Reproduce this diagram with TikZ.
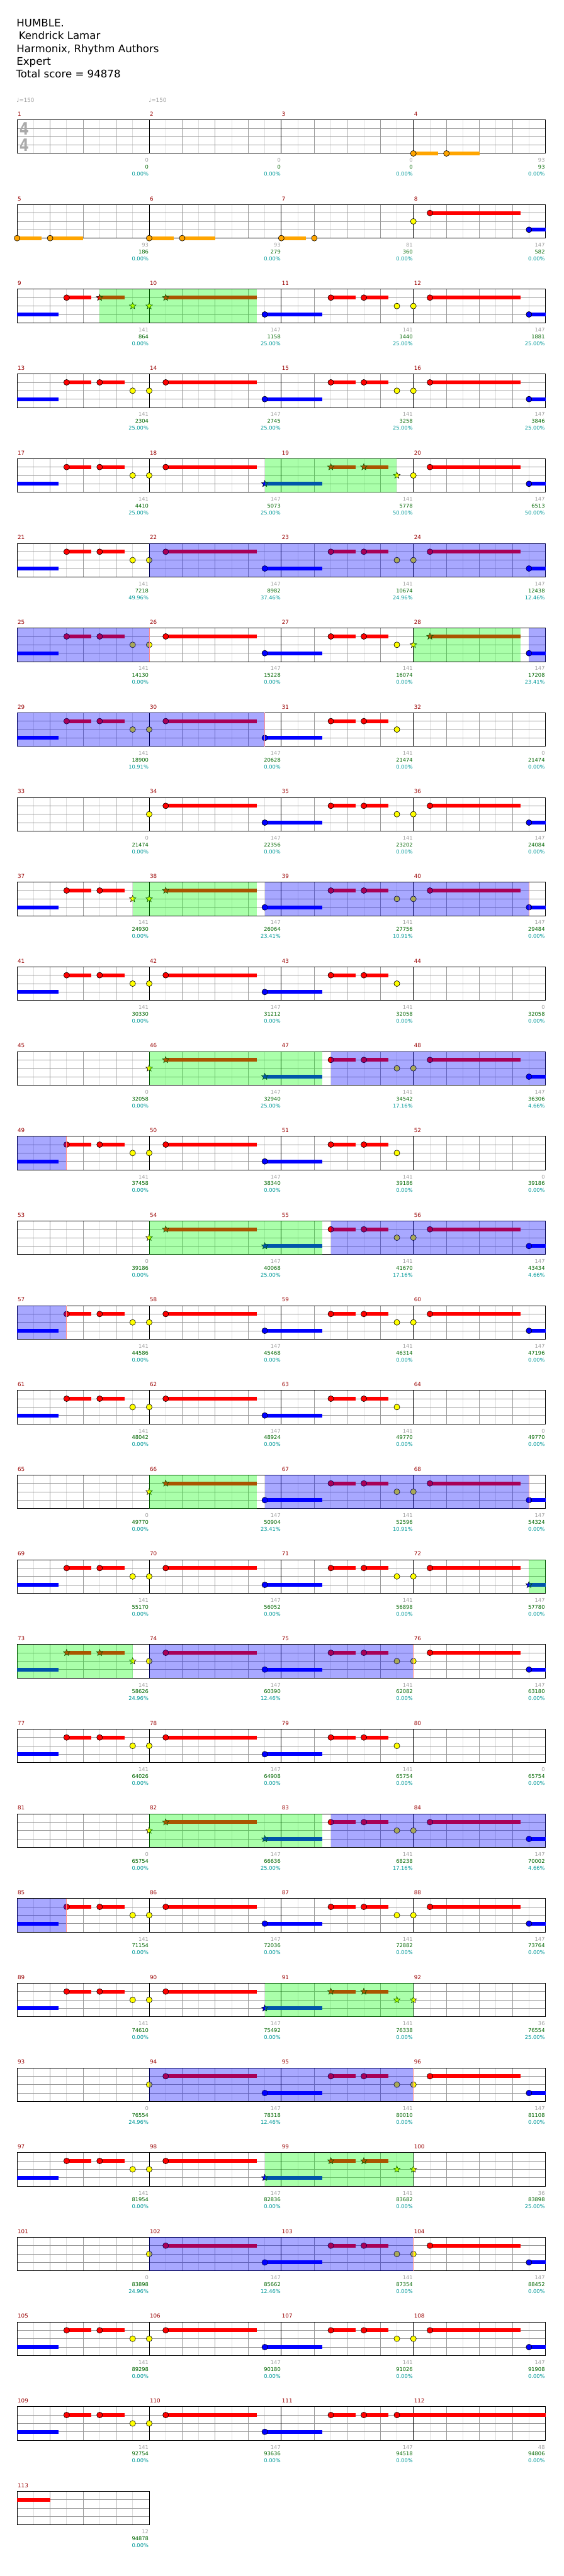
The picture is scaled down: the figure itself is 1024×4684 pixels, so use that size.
\documentclass[tikz,border=0pt]{standalone}
\usepackage{fontspec}
\setmainfont{DejaVu Sans}
\usetikzlibrary{shapes.geometric}
\definecolor{cR}{RGB}{255,0,0}
\definecolor{cY}{RGB}{255,255,0}
\definecolor{cB}{RGB}{0,0,255}
\definecolor{cO}{RGB}{255,165,0}
\definecolor{gridD}{RGB}{153,153,153}
\definecolor{gridL}{RGB}{221,221,221}
\definecolor{mnum}{RGB}{153,0,0}
\definecolor{lgray}{RGB}{160,160,160}
\definecolor{lgreen}{RGB}{0,102,0}
\definecolor{lteal}{RGB}{0,153,153}
\definecolor{tsgray}{RGB}{170,170,170}
\definecolor{spG}{RGB}{0,255,0}
\definecolor{odB}{RGB}{0,0,255}
\definecolor{endR}{RGB}{255,140,140}
\tikzset{
 cnote/.style={circle,draw=black,line width=0.7pt,minimum size=10.5pt,inner sep=0pt},
 snote/.style={star,star points=5,star point ratio=2.3,draw=black,line width=0.6pt,minimum size=12.5pt,inner sep=0pt},
 sus/.style={line width=7pt,line cap=butt},
 titletext/.style={anchor=base west,inner sep=0pt,font=\fontsize{19}{23}\selectfont},
 tempo/.style={anchor=base west,inner sep=0pt,text=lgray,font=\fontsize{10}{12}\selectfont},
 tsig/.style={inner sep=0pt,text=tsgray,xscale=0.8,font=\fontsize{31}{31}\selectfont\bfseries},
 mnumber/.style={anchor=base west,inner sep=0pt,text=mnum,font=\fontsize{10}{12}\selectfont},
 lab/.style={anchor=base east,inner sep=0pt,font=\fontsize{9.5}{11}\selectfont},
}
\newcommand\getX[2]{\pgfmathsetmacro\Xc{31+mod(#1-1,4)*240+#2}}
\newcommand\getT[1]{\pgfmathsetmacro\Tc{218+floor((#1-1)/4)*154}}
\newcommand\cn[4]{\getX{#1}{#2}\getT{#1}\node[cnote,fill=#4] at (\Xc,\Tc+#3*15.25) {};}
\newcommand\sn[4]{\getX{#1}{#2}\getT{#1}\node[snote,fill=#4] at (\Xc,\Tc+#3*15.25) {};}
\newcommand\nix[4]{}
\newcommand\su[5]{\getX{#1}{#2}\let\Xa\Xc\getX{#1}{#3}\getT{#1}\draw[sus,draw=#5] (\Xa,\Tc+#4*15.25) -- (\Xc,\Tc+#4*15.25);}
\newcommand\pAx[5]{\su{#1}{0}{75}{3}{cB}\su{#1}{90}{135}{1}{cR}#2{#1}{90}{1}{cR}\su{#1}{150}{195}{1}{cR}#3{#1}{150}{1}{cR}#4{#1}{210}{2}{cY}#5{#1}{240}{2}{cY}}
\newcommand\pA[1]{\pAx{#1}\cn\cn\cn\cn}
\newcommand\pAy[1]{\pAx{#1}\cn\cn\cn\nix}
\newcommand\pBx[3]{\su{#1}{30}{195}{1}{cR}#2{#1}{30}{1}{cR}\su{#1}{210}{240}{3}{cB}#3{#1}{210}{3}{cB}}
\newcommand\pB[1]{\pBx{#1}\cn\cn}
\newcommand\orng[2]{\su{#1}{0}{45}{4}{cO}\cn{#1}{0}{4}{cO}#2\cn{#1}{60}{4}{cO}}
\newcommand\rgG[4]{\getX{#1}{#2}\let\Xa\Xc\getX{#3}{#4}\getT{#1}\fill[spG,fill opacity=0.333] (\Xa,\Tc) rectangle (\Xc,\Tc+61);}
\newcommand\rgB[4]{\getX{#1}{#2}\let\Xa\Xc\getX{#3}{#4}\getT{#1}\fill[odB,fill opacity=0.34] (\Xa,\Tc) rectangle (\Xc,\Tc+61);}
\newcommand\pk[2]{\getX{#1}{#2}\getT{#1}\draw[endR,line width=1pt] (\Xc,\Tc) -- (\Xc,\Tc+61);}
\begin{document}
\begin{tikzpicture}[x=1pt,y=-1pt]
\useasboundingbox (0,0) rectangle (1024,4684);
\fill[white] (0,0) rectangle (1024,4684);
% title
\node[titletext] (t1) at (30,49) {HUMBLE.};
\node[titletext] (t2) at (34,72) {Kendrick Lamar};
\node[titletext] (t3) at (30,95.5) {Harmonix, Rhythm Authors};
\node[titletext] (t4) at (30,118.5) {Expert};
\node[titletext] (t5) at (29,141.5) {Total score = 94878};
\node[tempo] (tp1) at (30,186) {♩=150};
\node[tempo] (tp2) at (270,186) {♩=150};
% grid
\foreach \m in {1,...,113}{
  \getX{\m}{0}\getT{\m}
  \foreach \o in {30,90,150,210} \draw[gridL,line width=1pt] (\Xc+\o,\Tc) -- (\Xc+\o,\Tc+61);
  \foreach \o in {60,120,180} \draw[gridD,line width=1pt] (\Xc+\o,\Tc) -- (\Xc+\o,\Tc+61);
  \foreach \l in {15.25,30.5,45.75} \draw[gridD,line width=1pt] (\Xc,\Tc+\l) -- (\Xc+240,\Tc+\l);
  \draw[black,line width=1.1pt] (\Xc,\Tc) rectangle (\Xc+240,\Tc+61);
  \node[mnumber] at (\Xc+1,\Tc-7) {\m};
}
\node[tsig] (ts1) at (44,233.5) {4};
\node[tsig] (ts2) at (44,263.5) {4};
% notes
\su{4}{60}{120}{4}{cO}\orng{4}{}
\su{5}{60}{120}{4}{cO}\orng{5}{}
\su{6}{60}{120}{4}{cO}\orng{6}{}
\orng{7}{}\cn{7}{240}{2}{cY}
\pB{8}
\pAx{9}\cn\sn\sn\sn \pBx{10}\sn\cn \pA{11}\pB{12}
\pA{13}\pB{14}\pA{15}\pB{16}
\pA{17}\pBx{18}\cn\sn \pAx{19}\sn\sn\sn\cn \pB{20}
\pA{21}\pB{22}\pA{23}\pB{24}
\pA{25}\pB{26}\pAx{27}\cn\cn\cn\sn \pBx{28}\sn\cn
\pA{29}\pB{30}\pAy{31}
\cn{33}{240}{2}{cY}\pB{34}\pA{35}\pB{36}
\pAx{37}\cn\cn\sn\sn \pBx{38}\sn\cn \pA{39}\pB{40}
\pA{41}\pB{42}\pAy{43}
\sn{45}{240}{2}{cY}\pBx{46}\sn\sn \pA{47}\pB{48}
\pA{49}\pB{50}\pAy{51}
\sn{53}{240}{2}{cY}\pBx{54}\sn\sn \pA{55}\pB{56}
\pA{57}\pB{58}\pA{59}\pB{60}
\pA{61}\pB{62}\pAy{63}
\sn{65}{240}{2}{cY}\pBx{66}\sn\cn \pA{67}\pB{68}
\pA{69}\pB{70}\pA{71}\pBx{72}\cn\sn
\pAx{73}\sn\sn\sn\cn \pB{74}\pA{75}\pB{76}
\pA{77}\pB{78}\pAy{79}
\sn{81}{240}{2}{cY}\pBx{82}\sn\sn \pA{83}\pB{84}
\pA{85}\pB{86}\pA{87}\pB{88}
\pA{89}\pBx{90}\cn\sn \pAx{91}\sn\sn\sn\sn
\cn{93}{240}{2}{cY}\pB{94}\pA{95}\pB{96}
\pA{97}\pBx{98}\cn\sn \pAx{99}\sn\sn\sn\sn
\cn{101}{240}{2}{cY}\pB{102}\pA{103}\pB{104}
\pA{105}\pB{106}\pA{107}\pB{108}
\pA{109}\pB{110}\pAx{111}\cn\cn\nix\nix
\su{111}{210}{240}{1}{cR}\cn{111}{210}{1}{cR}
\su{112}{0}{240}{1}{cR}
\su{113}{0}{60}{1}{cR}
% star power regions
\rgG{9}{150}{10}{195}\rgG{18}{210}{19}{210}\rgG{28}{0}{28}{195}\rgG{37}{210}{38}{195}
\rgG{46}{0}{47}{75}\rgG{54}{0}{55}{75}\rgG{66}{0}{66}{195}\rgG{72}{210}{72}{240}
\rgG{73}{0}{73}{210}\rgG{82}{0}{83}{75}\rgG{90}{210}{91}{240}\rgG{98}{210}{99}{240}
% activation regions
\rgB{22}{0}{24}{240}\rgB{25}{0}{26}{0}\rgB{28}{210}{28}{240}\rgB{29}{0}{30}{210}
\rgB{38}{210}{40}{210}\rgB{47}{90}{48}{240}\rgB{49}{0}{49}{90}\rgB{55}{90}{56}{240}
\rgB{57}{0}{57}{90}\rgB{66}{210}{68}{210}\rgB{74}{0}{76}{0}\rgB{83}{90}{84}{240}
\rgB{85}{0}{85}{90}\rgB{94}{0}{96}{0}\rgB{102}{0}{104}{0}
\pk{26}{0}\pk{30}{210}\pk{40}{210}\pk{49}{90}\pk{57}{90}\pk{68}{210}\pk{76}{0}
\pk{85}{90}\pk{96}{0}\pk{104}{0}
% labels
\foreach \m/\la/\lb/\lc in {1/0/0/0.00,2/0/0/0.00,3/0/0/0.00,4/93/93/0.00,
5/93/186/0.00,6/93/279/0.00,7/81/360/0.00,8/147/582/0.00,
9/141/864/0.00,10/147/1158/25.00,11/141/1440/25.00,12/147/1881/25.00,
13/141/2304/25.00,14/147/2745/25.00,15/141/3258/25.00,16/147/3846/25.00,
17/141/4410/25.00,18/147/5073/25.00,19/141/5778/50.00,20/147/6513/50.00,
21/141/7218/49.96,22/147/8982/37.46,23/141/10674/24.96,24/147/12438/12.46,
25/141/14130/0.00,26/147/15228/0.00,27/141/16074/0.00,28/147/17208/23.41,
29/141/18900/10.91,30/147/20628/0.00,31/141/21474/0.00,32/0/21474/0.00,
33/0/21474/0.00,34/147/22356/0.00,35/141/23202/0.00,36/147/24084/0.00,
37/141/24930/0.00,38/147/26064/23.41,39/141/27756/10.91,40/147/29484/0.00,
41/141/30330/0.00,42/147/31212/0.00,43/141/32058/0.00,44/0/32058/0.00,
45/0/32058/0.00,46/147/32940/25.00,47/141/34542/17.16,48/147/36306/4.66,
49/141/37458/0.00,50/147/38340/0.00,51/141/39186/0.00,52/0/39186/0.00,
53/0/39186/0.00,54/147/40068/25.00,55/141/41670/17.16,56/147/43434/4.66,
57/141/44586/0.00,58/147/45468/0.00,59/141/46314/0.00,60/147/47196/0.00,
61/141/48042/0.00,62/147/48924/0.00,63/141/49770/0.00,64/0/49770/0.00,
65/0/49770/0.00,66/147/50904/23.41,67/141/52596/10.91,68/147/54324/0.00,
69/141/55170/0.00,70/147/56052/0.00,71/141/56898/0.00,72/147/57780/0.00,
73/141/58626/24.96,74/147/60390/12.46,75/141/62082/0.00,76/147/63180/0.00,
77/141/64026/0.00,78/147/64908/0.00,79/141/65754/0.00,80/0/65754/0.00,
81/0/65754/0.00,82/147/66636/25.00,83/141/68238/17.16,84/147/70002/4.66,
85/141/71154/0.00,86/147/72036/0.00,87/141/72882/0.00,88/147/73764/0.00,
89/141/74610/0.00,90/147/75492/0.00,91/141/76338/0.00,92/36/76554/25.00,
93/0/76554/24.96,94/147/78318/12.46,95/141/80010/0.00,96/147/81108/0.00,
97/141/81954/0.00,98/147/82836/0.00,99/141/83682/0.00,100/36/83898/25.00,
101/0/83898/24.96,102/147/85662/12.46,103/141/87354/0.00,104/147/88452/0.00,
105/141/89298/0.00,106/147/90180/0.00,107/141/91026/0.00,108/147/91908/0.00,
109/141/92754/0.00,110/147/93636/0.00,111/147/94518/0.00,112/48/94806/0.00,
113/12/94878/0.00}{
  \getX{\m}{240}\getT{\m}
  \node[lab,text=lgray] at (\Xc-1,\Tc+77) {\la};
  \node[lab,text=lgreen] at (\Xc-1,\Tc+89.5) {\lb};
  \node[lab,text=lteal] at (\Xc-1,\Tc+102) {\lc\%};
}
\end{tikzpicture}
\end{document}
